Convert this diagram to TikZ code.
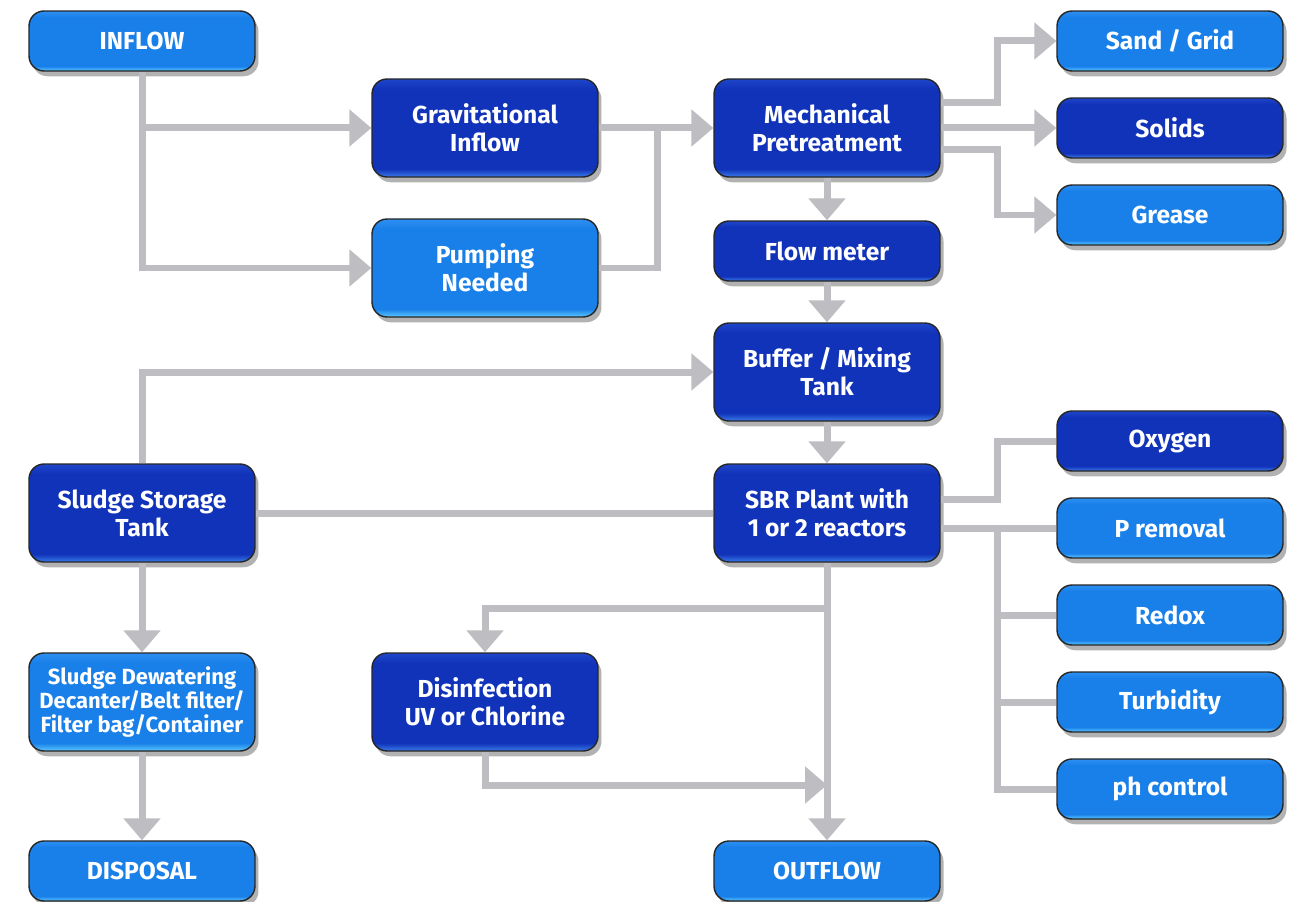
\documentclass[tikz,border=0pt]{standalone}
\usepackage{fontspec}
\setmainfont{Fira Sans}
\usepackage{tikz}
\usetikzlibrary{arrows.meta,shadows}
\definecolor{lbmain}{HTML}{1A80E9}
\definecolor{lbtop}{HTML}{2C8FF2}
\definecolor{lbbot}{HTML}{5CC8FF}
\definecolor{dbmain}{HTML}{1133B9}
\definecolor{dbtop}{HTML}{1E46CA}
\definecolor{dbbot}{HTML}{3A7CEB}
\definecolor{pipegray}{HTML}{BDBDC2}
\pgfdeclareverticalshading{lightbox}{100bp}{color(0bp)=(lbbot); color(25bp)=(lbbot); color(29bp)=(lbmain); color(70bp)=(lbmain); color(75bp)=(lbtop); color(100bp)=(lbtop)}
\pgfdeclareverticalshading{darkbox}{100bp}{color(0bp)=(dbbot); color(25bp)=(dbbot); color(29bp)=(dbmain); color(70bp)=(dbmain); color(75bp)=(dbtop); color(100bp)=(dbtop)}

\begin{document}
\begin{tikzpicture}[x=0.02cm,y=-0.02cm,
  box/.style={rounded corners=0.3cm, draw=black!85, line width=0.8pt, shade, text=white, align=center,
    minimum width=4.52cm, minimum height=1.2cm, inner sep=2pt,
    font=\bfseries\fontsize{14}{16}\selectfont,
    drop shadow={shadow xshift=2pt, shadow yshift=-3pt, opacity=0.3, fill=black}},
  light/.style={box, shading=lightbox},
  dark/.style={box, shading=darkbox},
  tall/.style={minimum height=1.96cm},
  pipe/.style={draw=pipegray, line width=0.14cm},
  flow/.style={pipe, -{Triangle[width=0.72cm,length=0.44cm]}}]
\useasboundingbox[fill=white] (0,0) rectangle (1291,902);
\node[light] (INFLOW) at (142,41) {INFLOW};
\node[dark,tall] (GRAV) at (485,128) {Gravitational\\Inflow};
\node[light,tall] (PUMP) at (485,268) {Pumping\\Needed};
\node[dark,tall] (MECH) at (827,128) {Mechanical\\Pretreatment};
\node[dark] (FLOW) at (827,251) {Flow meter};
\node[dark,tall] (BUFFER) at (827,372) {Buffer / Mixing\\Tank};
\node[dark,tall] (SBR) at (827,513) {SBR Plant with\\1 or 2 reactors};
\node[light] (SAND) at (1170,41) {Sand / Grid};
\node[dark] (SOLIDS) at (1170,128) {Solids};
\node[light] (GREASE) at (1170,215) {Grease};
\node[dark] (OXY) at (1170,441) {Oxygen};
\node[light] (PREM) at (1170,528) {P removal};
\node[light] (REDOX) at (1170,615) {Redox};
\node[light] (TURB) at (1170,702) {Turbidity};
\node[light] (PH) at (1170,789) {ph control};
\node[dark,tall] (STORE) at (142,513) {Sludge Storage\\Tank};
\node[light,tall,font=\bfseries\fontsize{12.5}{13.8}\selectfont] (DEWAT) at (142,702) {Sludge Dewatering\\Decanter/Belt filter/\\Filter bag/Container};
\node[light] (DISP) at (142,871) {DISPOSAL};
\node[dark,tall] (DISINF) at (485,702) {Disinfection\\UV or Chlorine};
\node[light] (OUTFLOW) at (827,871) {OUTFLOW};
\coordinate (JOIN) at (657,128);
\coordinate (TAP) at (997,528);
\coordinate (SPLIT) at (827,608);
\coordinate (MERGE) at (827,785);
\draw[flow] (INFLOW) |- (GRAV);
\draw[flow] (INFLOW) |- (PUMP);
\draw[flow] (GRAV) -- (MECH);
\draw[pipe] (PUMP) -| (JOIN);
\draw[flow] ([yshift=0.52cm]MECH.east) -- ++(57,0) |- (SAND);
\draw[flow] (MECH) -- (SOLIDS);
\draw[flow] ([yshift=-0.44cm]MECH.east) -- ++(57,0) |- (GREASE);
\draw[flow] (MECH) -- (FLOW);
\draw[flow] (FLOW) -- (BUFFER);
\draw[flow] (BUFFER) -- (SBR);
\draw[flow] (STORE) |- (BUFFER);
\draw[pipe] (SBR) -- (STORE);
\draw[pipe] ([yshift=0.28cm]SBR.east) -- ++(57,0) |- (OXY);
\draw[pipe] (SBR.east |- TAP) -- (PREM);
\draw[pipe] (TAP) |- (REDOX);
\draw[pipe] (TAP) |- (TURB);
\draw[pipe] (TAP) |- (PH);
\draw[flow] (STORE) -- (DEWAT);
\draw[flow] (DEWAT) -- (DISP);
\draw[flow] (SBR) -- (OUTFLOW);
\draw[flow] (SPLIT) -| (DISINF);
\draw[flow] (DISINF) |- (MERGE);
\end{tikzpicture}
\end{document}
